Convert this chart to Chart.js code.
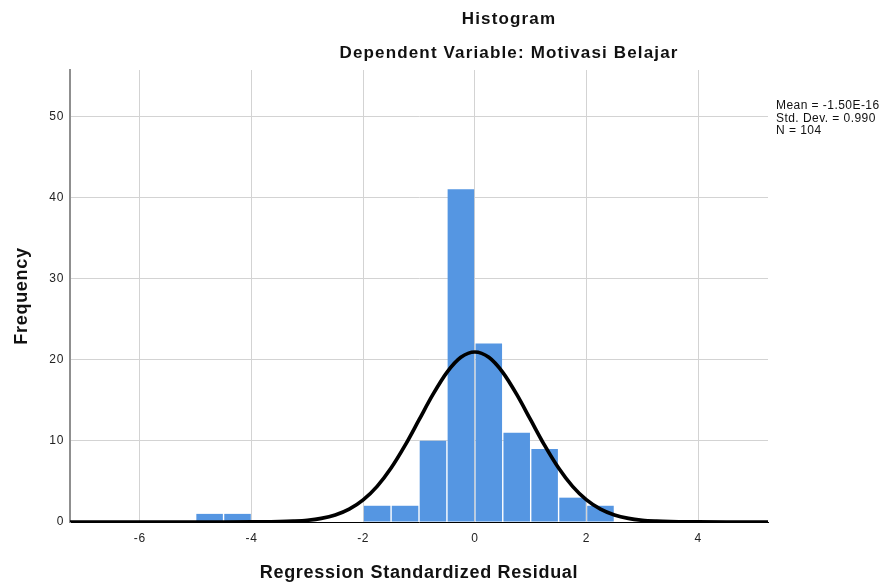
<!DOCTYPE html>
<html>
<head>
<meta charset="utf-8">
<script src="https://cdn.jsdelivr.net/npm/chart.js@4.4.1/dist/chart.umd.min.js"></script>
<style>
html,body{margin:0;padding:0;background:#fff;}
#wrap{position:relative;width:884px;height:585px;font-family:'Liberation Sans',Arial,sans-serif;color:#111;}
#c{position:absolute;left:0;top:0;}
.t{position:absolute;left:509px;transform:translateX(-50%);white-space:nowrap;font-weight:bold;font-size:17px;letter-spacing:1.15px;line-height:20px;}
#stats{position:absolute;left:776px;top:99px;font-size:12px;line-height:12.6px;letter-spacing:0.45px;white-space:nowrap;color:#111;}
</style>
</head>
<body>
<div id="wrap">
<canvas id="c" width="884" height="585"></canvas>
<div class="t" style="top:9px">Histogram</div>
<div class="t" style="top:43px">Dependent Variable: Motivasi Belajar</div>
<div id="stats">Mean = -1.50E-16<br>Std. Dev. = 0.990<br>N = 104</div>
</div>
<script>
// Histogram bins (bin centres, width 0.5) and frequencies
const binCenters = [-4.75, -4.25, -1.75, -1.25, -0.75, -0.25, 0.25, 0.75, 1.25, 1.75, 2.25];
const frequencies = [1, 1, 2, 2, 10, 41, 22, 11, 9, 3, 2];

// Normal curve
const curveX = [-7.25, -6, -5, -4.5, -4, -3.75, -3.5, -3.25, -3, -2.75, -2.5, -2.25, -2, -1.75, -1.5, -1.25, -1, -0.75, -0.5, -0.25, 0,
                0.25, 0.5, 0.75, 1, 1.25, 1.5, 1.75, 2, 2.25, 2.5, 2.75, 3, 3.25, 3.5, 3.75, 4, 4.5, 5, 5.25];
const curveY = [0, 0, 0, 0, 0.006, 0.016, 0.04, 0.10, 0.21, 0.44, 0.86, 1.58, 2.72, 4.39, 6.65, 9.44, 12.58, 15.72, 18.44, 20.29, 20.95,
                20.29, 18.44, 15.72, 12.58, 9.44, 6.65, 4.39, 2.72, 1.58, 0.86, 0.44, 0.21, 0.10, 0.04, 0.016, 0.006, 0, 0, 0];

const xTicks = [-6, -4, -2, 0, 2, 4];
const yTicks = [0, 10, 20, 30, 40, 50];
const xTitle = 'Regression Standardized Residual';
const yTitle = 'Frequency';

const FONT = "'Liberation Sans', Arial, sans-serif";

const spacingPlugin = {
  id: 'spacing',
  beforeDraw(chart) { chart.ctx.letterSpacing = '0.7px'; },
  afterDraw(chart) { chart.ctx.letterSpacing = '0px'; }
};

new Chart(document.getElementById('c'), {
  type: 'bar',
  data: {
    datasets: [
      {
        type: 'line',
        data: curveX.map((x, i) => ({x: x, y: curveY[i]})),
        borderColor: '#000',
        borderWidth: 3.7,
        pointRadius: 0,
        cubicInterpolationMode: 'monotone',
        fill: false,
        order: 0
      },
      {
        type: 'bar',
        data: binCenters.map((x, i) => ({x: x, y: frequencies[i]})),
        backgroundColor: '#5596e2',
        borderWidth: 0,
        barPercentage: 0.95,
        categoryPercentage: 1.0,
        order: 1
      }
    ]
  },
  options: {
    responsive: false,
    animation: false,
    layout: {padding: {top: 70, right: 116, left: 0, bottom: 0}},
    plugins: {legend: {display: false}, tooltip: {enabled: false}, title: {display: false}},
    scales: {
      x: {
        type: 'linear',
        min: -7.25,
        max: 5.25,
        offset: false,
        afterBuildTicks: s => { s.ticks = xTicks.map(v => ({value: v})); },
        afterFit: s => { s.height = 63; },
        grid: {color: '#d3d3d3', lineWidth: 1, drawTicks: false, offset: false},
        border: {display: true, color: '#000', width: 1},
        ticks: {padding: 9, color: '#222', font: {family: FONT, size: 12}, maxRotation: 0},
        title: {display: true, text: xTitle, color: '#111', font: {family: FONT, size: 18, weight: 'bold'}, padding: {top: 4, bottom: 1}}
      },
      y: {
        min: 0,
        max: 55.7,
        afterBuildTicks: s => { s.ticks = yTicks.map(v => ({value: v})); },
        afterFit: s => { s.width = 70; },
        grid: {color: '#d3d3d3', lineWidth: 1, drawTicks: false},
        border: {display: true, color: '#8f8f8f', width: 2},
        ticks: {padding: 6, color: '#222', font: {family: FONT, size: 12}},
        title: {display: true, text: yTitle, color: '#111', font: {family: FONT, size: 18, weight: 'bold'}, padding: {top: 11, bottom: 0}}
      }
    }
  },
  plugins: [spacingPlugin]
});
</script>
</body>
</html>
